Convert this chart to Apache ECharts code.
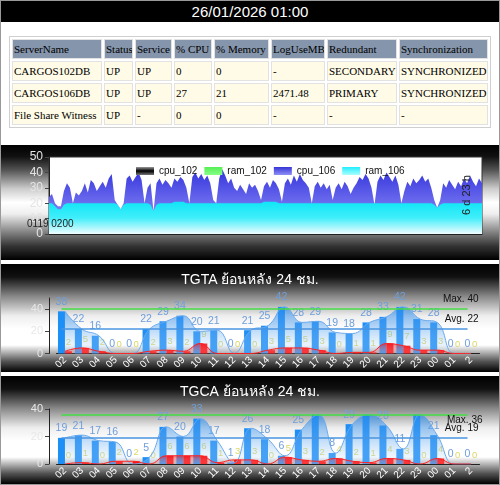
<!DOCTYPE html>
<html>
<head>
<meta charset="utf-8">
<script src="https://cdn.jsdelivr.net/npm/echarts@6/dist/echarts.min.js"></script>
<style>
  html, body { margin: 0; padding: 0; background: #fff; }
  #page { position: relative; width: 500px; height: 485px; box-sizing: border-box; border: 1px solid #999; overflow: hidden; background: #fff; }
  #head { position: absolute; left: 0; top: 0; width: 498px; height: 21px; background: #000; color: #fff;
    font: 15px 'Liberation Sans', Arial, sans-serif; text-align: center; line-height: 22px; }
  #tbl { position: absolute; left: 8px; top: 35px; width: 482px; border-collapse: separate; border-spacing: 2px; table-layout: fixed;
    font: 11px 'Liberation Serif', 'Times New Roman', serif; border: 1px solid #cfcfcf; background: #fff; }
  #tbl td { padding: 0 1px; height: 18px; line-height: 18px; border: 1px solid #e2e2e2; white-space: nowrap; overflow: hidden; background: #fffbe6; color: #000; }
  #tbl tr.hd td { background: #8595ab; }
  .panel { position: absolute; left: 0; width: 498px; }
  #p1 { top: 144px; height: 115px; background: linear-gradient(to bottom, #000 0%, #111 10%, #555 22%, #ccc 38%, #fff 50%, #eee 60%, #888 75%, #333 88%, #000 100%); }
  #p2 { top: 263px; height: 108px; background: linear-gradient(to bottom, #000 0%, #111 12%, #888 30%, #eee 48%, #fff 60%, #fff 75%, #555 90%, #000 100%); }
  #p3 { top: 375px; height: 108px; background: linear-gradient(to bottom, #000 0%, #111 12%, #888 30%, #eee 48%, #fff 60%, #fff 75%, #555 90%, #000 100%); }
  .chart { width: 498px; height: 100%; }
</style>
</head>
<body>
<div id="page">
  <div id="head">26/01/2026 01:00</div>
  <table id="tbl"></table>
  <div class="panel" id="p1"><div class="chart" id="c1"></div></div>
  <div class="panel" id="p2"><div class="chart" id="c2"></div></div>
  <div class="panel" id="p3"><div class="chart" id="c3"></div></div>
</div>
<script>
const tableHead = ['ServerName', 'Status', 'Service', '% CPU', '% Memory', 'LogUseMB', 'Redundant', 'Synchronization'];
const tableRows = [
  ['CARGOS102DB', 'UP', 'UP', '0', '0', '-', 'SECONDARY', 'SYNCHRONIZED'],
  ['CARGOS106DB', 'UP', 'UP', '27', '21', '2471.48', 'PRIMARY', 'SYNCHRONIZED'],
  ['File Share Witness', 'UP', '-', '0', '0', '-', '-', '-']
];

// 7 day usage (cpu_102 / ram_102 are empty)
const cpu102 = [];
const ram102 = [];
const cpu106 = [
  24, 26, 20, 18, 18, 28, 33, 30, 20, 27,
  25, 28, 33, 27, 35, 33, 28, 31, 34, 30,
  36, 39, 22, 19, 16, 20, 36, 38, 34, 37,
  40, 35, 20, 30, 33, 15, 33, 36, 32, 35,
  33, 30, 36, 34, 37, 35, 30, 20, 37, 40,
  36, 39, 35, 38, 33, 22, 20, 36, 42, 38,
  33, 36, 30, 28, 32, 29, 26, 33, 30, 32,
  28, 22, 31, 34, 30, 35, 33, 29, 21, 33,
  36, 32, 38, 34, 39, 35, 33, 30, 20, 31,
  34, 30, 33, 29, 32, 22, 30, 33, 29, 34,
  31, 26, 30, 33, 37, 35, 39, 36, 30, 19,
  34, 38, 35, 40, 37, 34, 38, 32, 20, 28,
  34, 31, 36, 33, 35, 38, 34, 36, 30, 22,
  17, 22, 33, 30, 35, 32, 29, 34, 31, 36,
  33, 38, 34, 31, 36, 33
];
const ram106 = [
  20, 20, 18, 16, 16, 19, 20, 20, 20, 20,
  20, 20, 20, 20, 20, 20, 20, 20, 20, 20,
  20, 20, 20, 19, 16, 19, 20, 20, 20, 20,
  20, 20, 20, 20, 19, 15, 19, 20, 20, 20,
  20, 20, 21, 21, 21, 21, 20, 20, 20, 20,
  20, 20, 20, 20, 20, 20, 20, 20, 20, 20,
  20, 20, 20, 20, 20, 20, 20, 20, 20, 20,
  20, 20, 21, 21, 21, 21, 21, 20, 20, 20,
  20, 20, 20, 20, 20, 20, 20, 20, 20, 20,
  20, 20, 20, 20, 20, 20, 20, 20, 20, 20,
  20, 20, 20, 20, 20, 20, 20, 20, 20, 20,
  20, 20, 20, 20, 20, 20, 20, 20, 20, 20,
  20, 20, 20, 20, 20, 20, 20, 20, 20, 19,
  17, 19, 20, 20, 20, 20, 20, 20, 20, 20,
  20, 20, 20, 20, 20, 20
];
const usageStart = '0119 0200';
const usageSpan = '6 d 23 h';

// hourly history
const hours = ['02', '03', '04', '05', '06', '07', '08', '09', '10', '11', '12', '13', '14', '15', '16', '17', '18', '19', '20', '21', '22', '23', '00', '01', '2'];
const tgtaBlue = [38, 22, 16, 0, 0, 22, 29, 34, 20, 21, 0, 21, 25, 42, 28, 29, 19, 18, 28, 33, 42, 31, 28, 0, 0];
const tgtaRed = [2, 5, 2, 0, 0, 2, 3, 2, 9, 0, 0, 0, 3, 5, 5, 3, 0, 1, 1, 9, 7, 3, 3, 0, 0];
const tgtaMax = 40;
const tgtaAvg = 22;
const tgcaBlue = [19, 21, 17, 16, 0, 5, 27, 20, 33, 17, 1, 26, 18, 6, 25, 36, 8, 29, 36, 28, 11, 36, 21, 0, 0];
const tgcaRed = [0, 1, 0, 2, 2, 0, 6, 6, 6, 1, 3, 3, 0, 5, 3, 2, 4, 2, 1, 4, 3, 0, 4, 0, 0];
const tgcaMax = 36;
const tgcaAvg = 19;
const tgcaNoLabel = ['17', '20', '23'];

// table
const tbl = document.getElementById('tbl');
const colWidths = [90, 29, 37, 38, 55, 54, 70, 89];
let html = '<colgroup>' + colWidths.map(w => `<col style="width:${w}px">`).join('') + '</colgroup>';
html += '<tr class="hd">' + tableHead.map(h => `<td>${h}</td>`).join('') + '</tr>';
tableRows.forEach(r => {
  html += '<tr>' + r.map(c => `<td>${c}</td>`).join('') + '</tr>';
});
tbl.innerHTML = html;

const vgrad = (stops) => new echarts.graphic.LinearGradient(0, 0, 0, 1, stops.map((c, i) => ({ offset: i / (stops.length - 1), color: c })));
const sans = "'Liberation Sans', Arial, 'Noto Sans', sans-serif";

// usage chart
const c1 = echarts.init(document.getElementById('c1'));
c1.setOption({
  animation: false,
  textStyle: { fontFamily: sans },
  grid: { left: 48, right: 17, top: 12, bottom: 26, show: true, backgroundColor: '#fff', borderColor: '#333', borderWidth: 1 },
  legend: {
    left: 130, top: 16, icon: 'rect', itemWidth: 18, itemHeight: 8, itemGap: 7,
    textStyle: { fontSize: 10, color: '#111' },
    data: ['cpu_102', 'ram_102', 'cpu_106', 'ram_106']
  },
  xAxis: {
    type: 'category', boundaryGap: false, data: cpu106.map((v, i) => i),
    axisLabel: { show: false }, axisTick: { show: false },
    axisLine: { lineStyle: { color: '#222' } }
  },
  yAxis: {
    type: 'value', min: 0, max: 50, interval: 10,
    splitLine: { show: false },
    axisLine: { show: true, lineStyle: { color: '#222' } },
    axisTick: { show: true, length: 4, lineStyle: { color: '#444' } },
    axisLabel: { color: '#e4e4e4', fontSize: 12, margin: 6 }
  },
  series: [
    { name: 'cpu_102', type: 'line', data: cpu102, showSymbol: false,
      itemStyle: { color: vgrad(['#999', '#000', '#777']) }, lineStyle: { width: 0 }, areaStyle: {} },
    { name: 'ram_102', type: 'line', data: ram102, showSymbol: false,
      itemStyle: { color: vgrad(['#55ee55', '#88ff88']) }, lineStyle: { width: 0 }, areaStyle: {} },
    { name: 'cpu_106', type: 'line', data: cpu106, showSymbol: false,
      itemStyle: { color: vgrad(['#3535d8', '#8f8ff5']) }, lineStyle: { width: 0 },
      areaStyle: { color: vgrad(['#3434dc', '#6a6aee', '#b0b0ff']), opacity: 1 } },
    { name: 'ram_106', type: 'line', data: ram106, showSymbol: false,
      itemStyle: { color: vgrad(['#22eeff', '#aaffff']) }, lineStyle: { width: 0 },
      areaStyle: { color: vgrad(['#10e6f6', '#40eefa', '#f0fdff']), opacity: 1 } }
  ],
  graphic: [
    { type: 'text', x: 26, y: 79, z: 100,
      style: { text: usageStart, fontSize: 10, fontFamily: sans, fill: '#222', verticalAlign: 'middle' } },
    { type: 'text', x: 466, y: 50, z: 100, rotation: Math.PI / 2,
      style: { text: usageSpan, fontSize: 11, fontFamily: sans, fill: '#222', align: 'center', verticalAlign: 'middle' } }
  ]
});

function history(el, title, blue, red, maxV, avgV, yMax, top, bottom, noLabel, maxPos, avgPos) {
  const chart = echarts.init(document.getElementById(el));
  const last = hours.length - 1;
  chart.setOption({
    animation: false,
    textStyle: { fontFamily: sans },
    title: { text: title, left: 'center', top: 4, textStyle: { color: '#fff', fontSize: 14, fontWeight: 'normal', fontFamily: sans } },
    grid: { left: 55.5, right: 19.5, top: top, bottom: bottom },
    xAxis: {
      type: 'category', data: hours,
      axisTick: { show: false },
      axisLine: { lineStyle: { color: '#222' } },
      axisLabel: { color: '#fff', rotate: 45, fontSize: 10, interval: 0, margin: 5 }
    },
    yAxis: {
      type: 'value', min: 0, max: yMax, offset: 7.5,
      splitLine: { show: false },
      axisLine: { show: true, lineStyle: { color: '#222' } },
      axisTick: { show: true, length: 4, customValues: [0, 20, 40], lineStyle: { color: '#444' } },
      axisLabel: { color: '#e8e8e8', fontSize: 11, margin: 6, customValues: [0, 20, 40] }
    },
    series: [
      { type: 'line', data: blue, smooth: 0.45, showSymbol: false,
        lineStyle: { color: '#6aaaee', width: 1 },
        areaStyle: { color: vgrad(['rgba(35,135,235,0.9)', 'rgba(100,170,240,0.6)', 'rgba(220,235,250,0.25)']) } },
      { type: 'line', data: red, smooth: 0.45, showSymbol: false,
        lineStyle: { color: '#ff2020', width: 1 },
        areaStyle: { color: vgrad(['rgba(255,0,0,0.75)', 'rgba(255,120,120,0.2)']) } },
      { type: 'bar', barWidth: 7, barGap: '0%',
        data: blue.map((v, i) => noLabel.includes(hours[i]) ? { value: v, label: { show: false } } : v),
        itemStyle: { color: '#1e8ff6' },
        label: { show: true, position: 'top', distance: 4, color: '#6e9edb', fontSize: 10.5 },
        markLine: {
          silent: true, symbol: 'none',
          data: [
            [{ coord: [0, maxV], lineStyle: { color: '#44dd44', width: 1.5, type: 'solid' },
               label: { show: true, formatter: 'Max. ' + maxV, position: maxPos, distance: maxPos === 'insideEndBottom' ? 1 : 5, offset: [16, 0], color: '#111', fontSize: 10 } },
             { coord: [last, maxV] }],
            [{ coord: [0, avgV], lineStyle: { color: '#4a94e0', width: 1.5, type: 'solid' },
               label: { show: true, formatter: 'Avg. ' + avgV, position: avgPos, distance: 5, offset: [16, 0], color: '#111', fontSize: 10 } },
             { coord: [last, avgV] }]
          ]
        } },
      { type: 'bar', barWidth: 7, data: red,
        itemStyle: { color: '#ff0000' },
        label: { show: true, position: 'top', distance: 4, color: '#dcd866', fontSize: 9.5 } }
    ]
  });
}

history('c2', 'TGTA ย้อนหลัง 24 ชม.', tgtaBlue, tgtaRed, tgtaMax, tgtaAvg, 50, 34, 18, [], 'insideEndTop', 'insideEndTop');
history('c3', 'TGCA ย้อนหลัง 24 ชม.', tgcaBlue, tgcaRed, tgcaMax, tgcaAvg, 40, 33, 20, tgcaNoLabel, 'insideEndBottom', 'insideEndTop');
</script>
</body>
</html>
